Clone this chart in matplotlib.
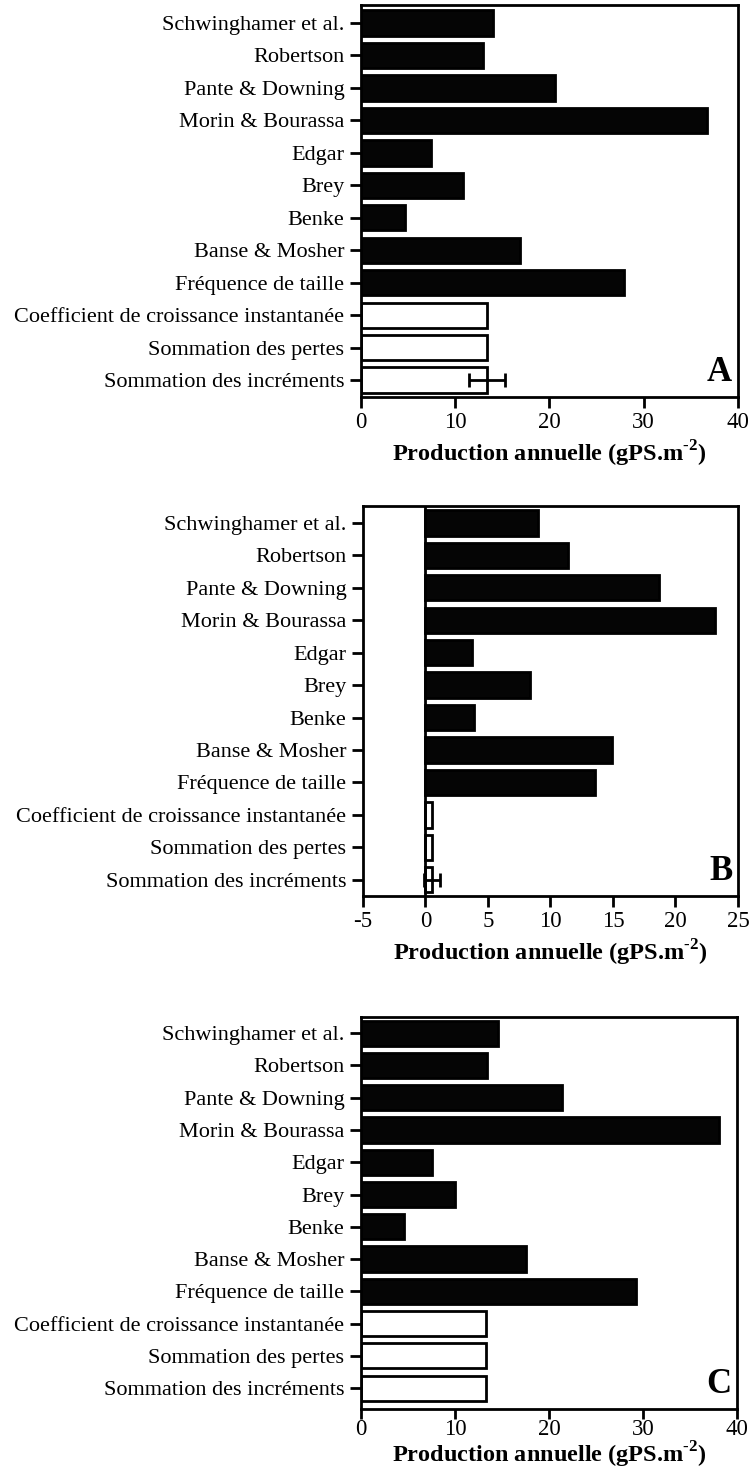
import matplotlib.pyplot as plt
import numpy as np

plt.rcParams['font.family'] = ['Liberation Serif', 'DejaVu Serif']
plt.rcParams['mathtext.fontset'] = 'custom'
plt.rcParams['mathtext.rm'] = 'Liberation Serif'
plt.rcParams['mathtext.bf'] = 'Liberation Serif:bold'

methodes = ["Schwinghamer et al.", "Robertson", "Pante & Downing", "Morin & Bourassa",
            "Edgar", "Brey", "Benke", "Banse & Mosher", "Fréquence de taille",
            "Coefficient de croissance instantanée", "Sommation des pertes",
            "Sommation des incréments"]

prod_a = [14.0, 12.9, 20.6, 36.7, 7.4, 10.8, 4.7, 16.9, 27.9, 13.4, 13.4, 13.4]
prod_b = [9.0, 11.4, 18.7, 23.2, 3.7, 8.4, 3.9, 14.9, 13.6, 0.5, 0.5, 0.5]
prod_c = [14.6, 13.4, 21.4, 38.1, 7.6, 10.0, 4.6, 17.6, 29.3, 13.3, 13.3, 13.3]

# écart sur la sommation des incréments (A et B seulement)
err_a = 1.9
err_b = 0.65

xticks_a = [0, 10, 20, 30, 40]
xticks_b = [-5, 0, 5, 10, 15, 20, 25]
xticks_c = [0, 10, 20, 30, 40]

n_noir = 9  # les 9 premières méthodes en noir, les 3 dernières en blanc


def tracer(ax, valeurs, xticks, xlim, ylim, lettre, err=None, pad=2, xpad=3, tlen=8):
    y = np.arange(len(methodes))
    couleurs = ['#050505'] * n_noir + ['white'] * (len(methodes) - n_noir)
    ax.barh(y, valeurs, height=0.78, color=couleurs, edgecolor='black', linewidth=2)
    if err is not None:
        ax.errorbar(valeurs[-1], y[-1], xerr=err, fmt='none', ecolor='black',
                    elinewidth=2, capsize=5, capthick=2)
    ax.set_yticks(y)
    ax.set_yticklabels(methodes, fontsize=16)
    ax.set_xticks(xticks)
    ax.set_xticklabels([str(t) for t in xticks], fontsize=16.5)
    ax.set_xlim(*xlim)
    ax.set_ylim(*ylim)
    ax.tick_params(direction='out', length=8, width=2)
    ax.tick_params(axis='x', pad=xpad, length=tlen)
    ax.tick_params(axis='y', pad=4)
    for s in ax.spines.values():
        s.set_linewidth(2)
    ax.set_xlabel("Production annuelle (gPS.m$^{\\mathbf{\u2010}\\mathbf{2}}$)", fontsize=17.5,
                  fontweight='bold', labelpad=pad)
    ax.text(0.985, 0.02, lettre, transform=ax.transAxes, ha='right', va='bottom',
            fontsize=25, fontweight='bold')


fig = plt.figure(figsize=(7.49, 14.73), dpi=100)

ax_a = fig.add_axes([0.482, 0.7305, 0.503, 0.266])
tracer(ax_a, prod_a, xticks_a, (0, 40), (11.52, -0.55), 'A', err_a, pad=4)

ax_b = fig.add_axes([0.4846, 0.3917, 0.5007, 0.2648])
tracer(ax_b, prod_b, xticks_b, (-5, 25), (11.5, -0.52), 'B', err_b, pad=4)
ax_b.axvline(0, color='black', linewidth=2)

ax_c = fig.add_axes([0.482, 0.0434, 0.502, 0.2661])
tracer(ax_c, prod_c, xticks_c, (0, 40), (11.65, -0.5), 'C', pad=0, xpad=0, tlen=7)

fig.savefig('out.png', dpi=100)
